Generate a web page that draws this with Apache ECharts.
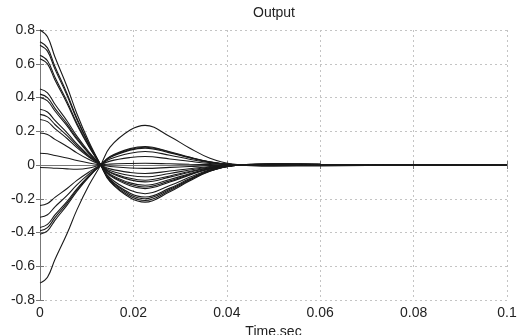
<!DOCTYPE html>
<html>
<head>
<meta charset="utf-8">
<script src="https://cdn.jsdelivr.net/npm/echarts@6/dist/echarts.min.js"></script>
<style>html,body{margin:0;padding:0;background:#fff}#c{width:517px;height:335px}</style>
</head>
<body>
<div id="c"></div>
<script>
const chartTitle = 'Output';
const xName = 'Time,sec';
const xTicks = [0, 0.02, 0.04, 0.06, 0.08, 0.1];
const yTicks = [-0.8, -0.6, -0.4, -0.2, 0, 0.2, 0.4, 0.6, 0.8];
const times = [0, 0.0016, 0.0032, 0.0058, 0.0079, 0.0105, 0.013, 0.015, 0.0193, 0.0225, 0.0278, 0.032, 0.0364, 0.0413, 0.05, 0.06, 0.08, 0.1];

const curve01 = [0.80, 0.76, 0.64, 0.464, 0.304, 0.136, 0, -0.099, -0.194, -0.22, -0.158, -0.095, -0.037, -0.004, 0.007, 0.004, 0.002, 0];
const curve02 = [0.73, 0.694, 0.584, 0.423, 0.277, 0.124, 0, -0.095, -0.185, -0.21, -0.151, -0.09, -0.036, -0.004, 0.006, 0.004, 0.002, 0];
const curve03 = [0.71, 0.675, 0.568, 0.412, 0.27, 0.121, 0, -0.09, -0.176, -0.20, -0.144, -0.086, -0.034, -0.004, 0.006, 0.004, 0.002, 0];
const curve04 = [0.65, 0.618, 0.52, 0.377, 0.247, 0.111, 0, -0.086, -0.167, -0.19, -0.137, -0.082, -0.032, -0.004, 0.006, 0.004, 0.002, 0];
const curve05 = [0.63, 0.599, 0.504, 0.365, 0.239, 0.107, 0, -0.077, -0.15, -0.17, -0.122, -0.073, -0.029, -0.003, 0.005, 0.003, 0.001, 0];
const curve06 = [0.45, 0.428, 0.36, 0.261, 0.171, 0.077, 0, -0.063, -0.123, -0.14, -0.101, -0.06, -0.024, -0.003, 0.004, 0.003, 0.001, 0];
const curve07 = [0.42, 0.399, 0.336, 0.244, 0.16, 0.071, 0, -0.059, -0.114, -0.13, -0.094, -0.056, -0.022, -0.003, 0.004, 0.003, 0.001, 0];
const curve08 = [0.40, 0.38, 0.32, 0.232, 0.152, 0.068, 0, -0.054, -0.106, -0.12, -0.086, -0.052, -0.02, -0.002, 0.004, 0.002, 0.001, 0];
const curve09 = [0.33, 0.314, 0.264, 0.191, 0.125, 0.056, 0, -0.045, -0.088, -0.10, -0.072, -0.043, -0.017, -0.002, 0.003, 0.002, 0.001, 0];
const curve10 = [0.30, 0.285, 0.24, 0.174, 0.114, 0.051, 0, -0.041, -0.079, -0.09, -0.065, -0.039, -0.015, -0.002, 0.003, 0.002, 0.001, 0];
const curve11 = [0.27, 0.257, 0.216, 0.157, 0.103, 0.046, 0, -0.032, -0.062, -0.07, -0.05, -0.03, -0.012, -0.001, 0.002, 0.001, 0, 0];
const curve12 = [0.19, 0.181, 0.152, 0.11, 0.072, 0.032, 0, -0.023, -0.044, -0.05, -0.036, -0.022, -0.009, -0.001, 0.002, 0.001, 0, 0];
const curve13 = [0.07, 0.067, 0.056, 0.041, 0.027, 0.012, 0, -0.009, -0.018, -0.02, -0.014, -0.009, -0.003, 0, 0.001, 0, 0, 0];
const curve14 = [-0.015, -0.016, -0.019, -0.023, -0.025, -0.018, 0, 0.005, 0.009, 0.01, 0.007, 0.004, 0.002, 0, 0, 0, 0, 0];
const curve15 = [-0.24, -0.228, -0.192, -0.139, -0.091, -0.041, 0, 0.023, 0.044, 0.05, 0.036, 0.022, 0.009, 0.001, -0.002, -0.001, 0, 0];
const curve16 = [-0.31, -0.295, -0.248, -0.18, -0.118, -0.053, 0, 0.036, 0.07, 0.08, 0.058, 0.034, 0.014, 0.002, -0.002, -0.002, -0.001, 0];
const curve17 = [-0.37, -0.352, -0.296, -0.215, -0.141, -0.063, 0, 0.045, 0.088, 0.10, 0.072, 0.043, 0.017, 0.002, -0.003, -0.002, -0.001, 0];
const curve18 = [-0.39, -0.371, -0.312, -0.226, -0.148, -0.066, 0, 0.047, 0.092, 0.105, 0.076, 0.045, 0.018, 0.002, -0.003, -0.002, -0.001, 0];
const curve19 = [-0.41, -0.39, -0.328, -0.238, -0.156, -0.07, 0, 0.05, 0.097, 0.11, 0.079, 0.047, 0.019, 0.002, -0.003, -0.002, -0.001, 0];
const curve20 = [-0.70, -0.665, -0.56, -0.406, -0.266, -0.119, 0, 0.106, 0.207, 0.235, 0.169, 0.101, 0.04, 0.005, -0.007, -0.005, -0.002, 0];

const curves = [curve01, curve02, curve03, curve04, curve05, curve06, curve07, curve08, curve09, curve10,
                curve11, curve12, curve13, curve14, curve15, curve16, curve17, curve18, curve19, curve20];

const FONT = '"Liberation Sans", Arial, Helvetica, sans-serif';
const chart = echarts.init(document.getElementById('c'), null, {renderer: 'canvas'});

const gridLine = {show: true, lineStyle: {color: '#c4c4c4', type: [2, 3], width: 1}};
const boxLine = {show: true, lineStyle: {color: '#777', width: 1}};
const tick = {show: true, inside: true, length: 4, lineStyle: {color: '#777'}};

const series = curves.map((c, k) => ({
  type: 'line',
  name: 'y' + (k + 1),
  xAxisIndex: 0, yAxisIndex: 0,
  data: times.map((t, i) => [t, c[i]]),
  showSymbol: false,
  symbol: 'none',
  smooth: 0.4,
  lineStyle: {color: '#1a1a1a', width: 1.1},
  silent: true,
  z: 3
}));

chart.setOption({
  animation: false,
  backgroundColor: '#fff',
  graphic: [{
    type: 'text', x: 274, y: 13, silent: true,
    style: {text: chartTitle, fontFamily: FONT, fontSize: 14, fill: '#222', align: 'center', verticalAlign: 'middle'}
  }],
  grid: {left: 40, right: 10, top: 30, bottom: 35, containLabel: false, outerBoundsMode: 'none'},
  xAxis: [{
    type: 'value', position: 'bottom',
    min: xTicks[0], max: xTicks[xTicks.length - 1], interval: 0.02,
    name: xName, nameLocation: 'middle', nameGap: 20,
    nameTextStyle: {fontFamily: FONT, fontSize: 14, color: '#222'},
    axisLine: boxLine, axisTick: tick, splitLine: gridLine,
    axisLabel: {fontFamily: FONT, fontSize: 14, color: '#222', margin: 6,
      formatter: v => String(+v.toFixed(2))}
  }, {
    type: 'value', position: 'top',
    min: xTicks[0], max: xTicks[xTicks.length - 1], interval: 0.02,
    axisLine: boxLine, axisTick: tick, splitLine: {show: false}, axisLabel: {show: false}
  }],
  yAxis: [{
    type: 'value', position: 'left',
    min: yTicks[0], max: yTicks[yTicks.length - 1], interval: 0.2,
    axisLine: boxLine, axisTick: tick, splitLine: gridLine,
    axisLabel: {fontFamily: FONT, fontSize: 14, color: '#222', margin: 5,
      formatter: v => String(+v.toFixed(1))}
  }, {
    type: 'value', position: 'right',
    min: yTicks[0], max: yTicks[yTicks.length - 1], interval: 0.2,
    axisLine: boxLine, axisTick: tick, splitLine: {show: false}, axisLabel: {show: false}
  }],
  series: series
});
</script>
</body>
</html>
